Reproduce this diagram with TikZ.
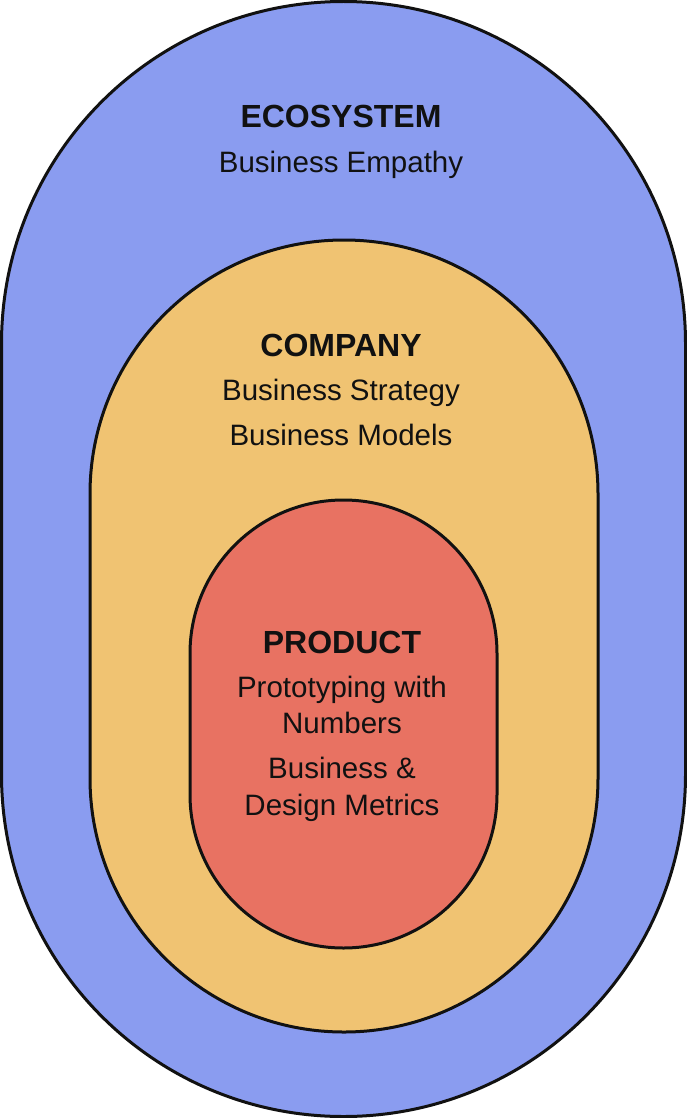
\documentclass[tikz,border=0pt]{standalone}
\usepackage{fontspec}
\setmainfont{Liberation Sans}
\definecolor{ecoblue}{HTML}{8A9CF0}
\definecolor{compor}{HTML}{F0C372}
\definecolor{prodred}{HTML}{E87262}
\definecolor{ink}{HTML}{111111}
\begin{document}
\begin{tikzpicture}[x=1pt,y=-1pt,
  ring/.style={draw=ink,line width=3pt},
  head/.style={anchor=base,text=ink,font=\fontsize{32}{32}\selectfont\bfseries,inner sep=0pt},
  body/.style={anchor=base,text=ink,font=\fontsize{29.5}{29.5}\selectfont,inner sep=0pt}]
\useasboundingbox (0,0) rectangle (687,1118);
% outer ecosystem stadium
\path[ring,fill=ecoblue] (1.5,343.5) arc[start angle=180,end angle=360,radius=342]
  -- (685.5,774.5) arc[start angle=0,end angle=180,radius=342] -- cycle;
% company stadium
\path[ring,fill=compor] (90,494) arc[start angle=180,end angle=360,radius=254]
  -- (598,778) arc[start angle=0,end angle=180,radius=254] -- cycle;
% product stadium
\path[ring,fill=prodred] (190,653.5) arc[start angle=180,end angle=360,radius=153.5]
  -- (497,794.5) arc[start angle=0,end angle=180,radius=153.5] -- cycle;
% texts
\node[head] (eco) at (341,128) {ECOSYSTEM};
\node[body] (eco1) at (341,173) {Business Empathy};
\node[head] (comp) at (341,356) {COMPANY};
\node[body] (comp1) at (341,400) {Business Strategy};
\node[body] (comp2) at (341,445) {Business Models};
\node[head] (prod) at (342,653) {PRODUCT};
\node[body] (prod1) at (342,697) {Prototyping with};
\node[body] (prod2) at (342,733) {Numbers};
\node[body] (prod3) at (342,778) {Business \&};
\node[body] (prod4) at (342,815) {Design Metrics};
\end{tikzpicture}
\end{document}
